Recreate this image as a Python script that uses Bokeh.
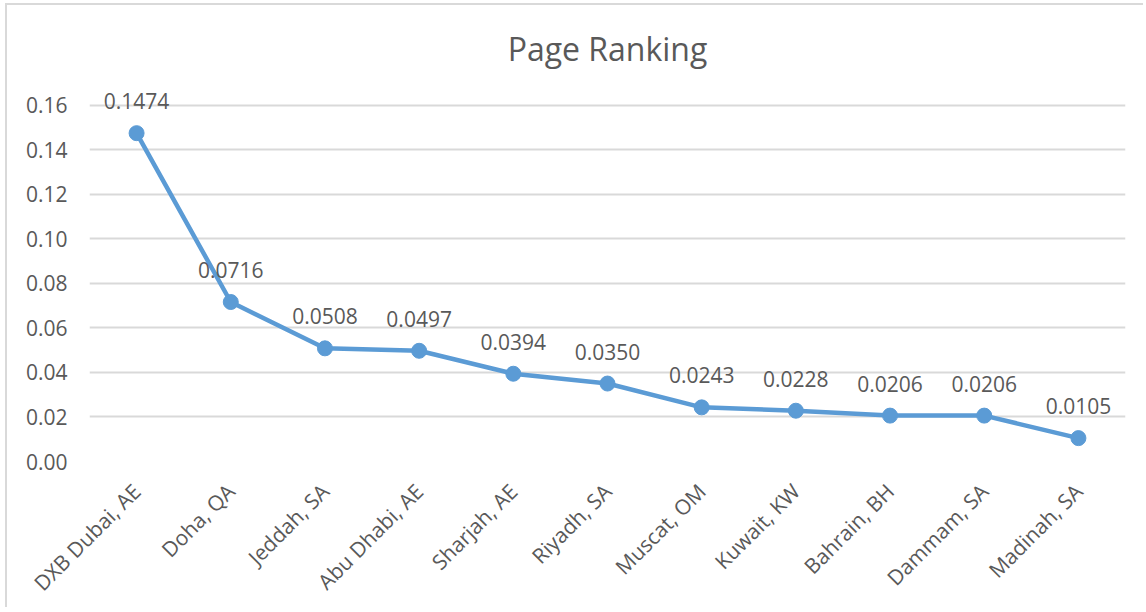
from bokeh.plotting import figure
from bokeh.models import Range1d, FixedTicker, ColumnDataSource, NumeralTickFormatter, LabelSet
from bokeh.core.properties import value
from bokeh.embed import file_html
from bokeh.resources import INLINE
import math

cities = ["DXB Dubai, AE", "Doha, QA", "Jeddah, SA", "Abu Dhabi, AE", "Sharjah, AE",
          "Riyadh, SA", "Muscat, OM", "Kuwait, KW", "Bahrain, BH", "Dammam, SA", "Madinah, SA"]
ranks = [0.1474, 0.0716, 0.0508, 0.0497, 0.0394, 0.0350, 0.0243, 0.0228, 0.0206, 0.0206, 0.0105]
y_ticks = [0.00, 0.02, 0.04, 0.06, 0.08, 0.10, 0.12, 0.14, 0.16]

FONT = "Open Sans"
GRAY = "#595959"

xs = list(range(len(cities)))
src = ColumnDataSource(dict(x=xs, y=ranks, lab=[f"{v:.4f}" for v in ranks]))

p = figure(width=1138, height=604, output_backend="svg", toolbar_location=None,
           x_range=Range1d(-0.5, len(cities) - 0.5), y_range=Range1d(0, 0.167),
           min_border_left=82, min_border_right=20, min_border_top=82, min_border_bottom=144)
p.styles = {"border-top": "2px solid #d9d9d9", "border-left": "2px solid #d9d9d9",
            "margin-top": "3px", "margin-left": "5px"}
p.outline_line_color = None

p.title.text = "Page Ranking"
p.title.align = "center"
p.title.text_font = FONT
p.title.text_font_size = "32px"
p.title.text_font_style = "normal"
p.title.text_color = GRAY
p.title.offset = -27
p.title.standoff = 39

p.xgrid.visible = False
p.ygrid.grid_line_color = "#d9d9d9"
p.ygrid.grid_line_width = 2
p.ygrid.ticker = FixedTicker(ticks=y_ticks)

p.yaxis.ticker = FixedTicker(ticks=y_ticks)
p.yaxis.formatter = NumeralTickFormatter(format="0.00")
p.yaxis.axis_line_color = None
p.yaxis.major_tick_line_color = None
p.yaxis.minor_tick_line_color = None
p.yaxis.major_label_text_font = FONT
p.yaxis.major_label_text_font_size = "21px"
p.yaxis.major_label_text_color = GRAY
p.yaxis.major_label_standoff = 16

p.xaxis.ticker = FixedTicker(ticks=xs)
p.xaxis.major_label_overrides = {i: c for i, c in enumerate(cities)}
p.xaxis.axis_line_color = None
p.xaxis.major_tick_line_color = None
p.xaxis.minor_tick_line_color = None
p.xaxis.major_label_orientation = math.pi / 4
p.xaxis.major_label_text_font = FONT
p.xaxis.major_label_text_font_size = "21px"
p.xaxis.major_label_text_color = GRAY
p.xaxis.major_label_standoff = 20

p.line("x", "y", source=src, line_color="#5B9BD5", line_width=4.5)
p.scatter("x", "y", source=src, size=15, fill_color="#5B9BD5", line_color="#5B9BD5")
labels = LabelSet(x="x", y="y", text="lab", source=src, y_offset=24, text_align="center",
                  text_baseline="alphabetic", text_font=value(FONT), text_font_size="21px",
                  text_color=GRAY)
p.add_layout(labels)

open("out.html", "w").write(file_html(p, INLINE))
